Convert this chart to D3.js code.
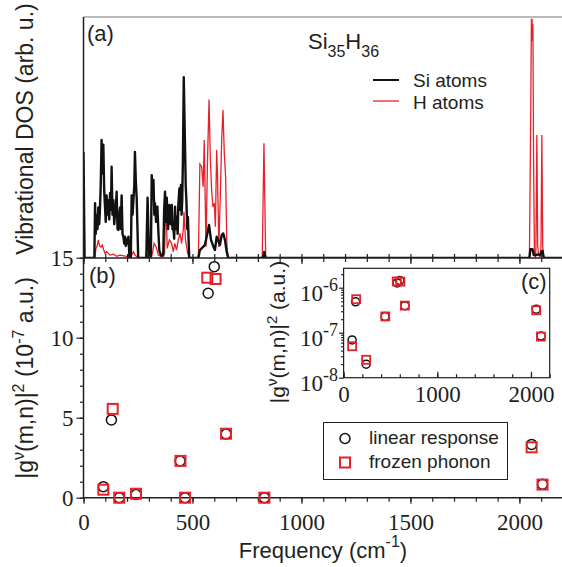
<!DOCTYPE html>
<html>
<head>
<meta charset="utf-8">
<script src="https://cdn.jsdelivr.net/npm/d3@7"></script>
<style>
  body { margin: 0; background: #fff; }
  svg { display: block; }
  .num { font-family: "Liberation Serif", Tinos, "Times New Roman", "DejaVu Serif", serif; }
</style>
</head>
<body>
<div id="chart"></div>
<script>
// vibrational DOS, [frequency (cm^-1), DOS in arb. u. (100 = top of panel a)]
const si_dos = [[0,44],[5,0],[50,0],[53,22.7],[56,10],[60,17.8],[64,12],[68,21],[72,14],[75,19],[79,30],[83,49],
  [87,35],[91,47],[95,28],[99,20.7],[102,15],[106,26],[110,18],[114,24],[118,16],[122,27],[126,20],[129,37.9],
  [133,18],[137,24],[141,14],[145,19],[149,22],[152,27.5],[156,12],[160,11.6],[164,18],[168,21],[171,12],[175,26],
  [179,10],[183,8.8],[187,6],[190,8.8],[194,5],[198,8],[202,6],[206,8.8],[211,0],[217,0],[221,26],[225,18],[229,24],
  [233,30],[236,44],[240,32],[244,25],[251,0],[288,0],[294,25],[301,0],[309,0],[313,34.4],[317,25],[321,32.4],
  [325,18],[328,22.7],[333,15],[339,21.3],[344,10],[348,3],[356,1],[366,1],[370,20],[374,27.5],[378,15],[382,25],
  [388,12],[394,22],[400,14],[405,22],[408,12],[412,13],[416,8],[420,21.3],[424,12],[428,17],[432,10],[435,22],
  [440,28.9],[444,20],[447,30.3],[450,18],[453,24],[456,40],[460,75],[463,60],[466,45],[469,30],[472,24],[476,12],
  [479,17],[485,0],[527,0],[534,3.3],[550,4.7],[557,5.4],[565,8.8],[576,13.7],[585,7.5],[596,4.7],[603,3.3],
  [611,8.8],[618,7.5],[626,5.4],[634,9.5],[641,10.2],[649,7.5],[657,2.6],[664,0],[823,0],[829,2.5],[835,0],
  [2046,0],[2050,3.6],[2060,3.6],[2066,1.2],[2074,1.2],[2086,1.5],[2094,1],[2100,2.5],[2106,3],[2112,0],[2200,0]];

const h_dos = [[0,0],[52,0],[57,4],[62,4.7],[68,7.5],[74,5],[80,4.5],[86,5.4],[93,3.3],[99,1.9],[106,2.6],[122,1.2],
  [137,1.6],[152,0.7],[167,1.2],[198,0.7],[221,1.2],[229,2.6],[236,1.2],[252,0],[288,0],[292,1.2],[297,0],[310,0],
  [316,1.9],[324,6.1],[333,4.7],[343,1.2],[359,0.5],[366,2.6],[372,2],[378,25],[384,4],[394,7.5],[404,6.1],[412,2.6],
  [419,6.1],[427,3.3],[435,7.5],[443,10.2],[450,6],[458,12],[461,19.2],[468,7.5],[478,1.9],[489,0],[527,0],[534,39],
  [542,37.9],[549,29.6],[554,49],[562,4.7],[569,40.7],[576,65.8],[582,40.7],[588,28],[594,21.3],[600,22.7],[605,13],
  [611,44.8],[615,33.7],[621,4.6],[628,26.8],[634,49],[640,61.4],[646,43.4],[652,33.7],[658,4.7],[664,0],[820,0],
  [828,47.6],[836,0],[2046,0],[2052,60],[2055,99],[2058,99],[2060,90],[2062,97],[2065,40],[2069,2],[2074,0],[2076,5],
  [2080,51],[2084,5],[2088,1],[2096,1],[2099,5],[2103,51],[2107,5],[2111,0],[2200,0]];

// |g^v(m,n)|^2 in units of 1e-7 a.u.
const lr_freq = [91, 128, 164, 241, 443, 466, 572, 600, 654, 830, 2056, 2106];
const lr_val  = [0.69, 4.86, 0, 0.2, 2.29, 0, 12.78, 14.44, 3.98, 0, 3.33, 0.84];
const fp_freq = [91, 134, 164, 241, 445, 466, 568, 606, 654, 830, 2056, 2106];
const fp_val  = [0.5, 5.55, 0, 0.25, 2.3, 0, 13.75, 13.67, 4.0, 0, 3.15, 0.82];

const x_major = [0, 500, 1000, 1500, 2000];
const x_minor = d3.range(0, 2201, 100);
const yb_major = [0, 5, 10, 15];
const yb_minor = d3.range(0, 16, 1);
const xi_major = [0, 1000, 2000];
const xi_minor = d3.range(0, 2201, 200);
const yi_major = [1e-8, 1e-7, 1e-6];
const yi_minor = [2e-8,3e-8,4e-8,5e-8,6e-8,7e-8,8e-8,9e-8,2e-7,3e-7,4e-7,5e-7,6e-7,7e-7,8e-7,9e-7,2e-6];

const RED = "#e8202a", INK = "#231f20";
const SANS = "Liberation Sans, Arial, sans-serif";

const svg = d3.select("#chart").append("svg")
  .attr("width", 562).attr("height", 567);

const top_a = 17, mid = 258, bot_b = 497.7;
const x = d3.scaleLinear().domain([0, 2200]).range([83.5, 563]);
const ya = d3.scaleLinear().domain([0, 100]).range([mid, top_a]);
const yb = d3.scaleLinear().domain([0, 15]).range([bot_b, 257.7]);
const xi = d3.scaleLinear().domain([0, 2200]).range([343.6, 549.7]);
const yi = d3.scaleLog().domain([1e-8, 2.7e-6]).range([377.7, 268.3]);

// tick labels are set in a Times-like serif
function style_axis(g, size) {
  g.attr("font-family", null).attr("font-size", null);
  g.selectAll("line").attr("stroke", INK).attr("stroke-width", 1.2);
  g.selectAll("text").attr("class", "num").attr("fill", INK).attr("font-size", size);
  g.select(".domain").remove();
}

// ---- panel (a): vibrational DOS
svg.append("clipPath").attr("id", "clip_a")
  .append("rect").attr("x", 83.5).attr("y", top_a).attr("width", 480).attr("height", mid - top_a);

const dos_line = d3.line().x(d => x(d[0])).y(d => ya(d[1]));
const ga = svg.append("g").attr("clip-path", "url(#clip_a)");
ga.append("path").attr("d", dos_line(h_dos))
  .attr("fill", "none").attr("stroke", RED).attr("stroke-width", 1.3);
ga.append("path").attr("d", dos_line(si_dos))
  .attr("fill", "none").attr("stroke", "#111").attr("stroke-width", 2.4).attr("stroke-linejoin", "round");

// frame of (a)
svg.append("line").attr("x1", 83.5).attr("x2", 563).attr("y1", top_a).attr("y2", top_a)
  .attr("stroke", "#777").attr("stroke-width", 1.2);

// ticks on shared line, pointing up into (a) and down into (b)
svg.append("g").attr("transform", `translate(0,${mid})`)
  .call(d3.axisTop(x).tickValues(x_minor).tickSize(4).tickFormat(""))
  .call(g => style_axis(g, 10));
svg.append("g").attr("transform", `translate(0,${mid})`)
  .call(d3.axisBottom(x).tickValues(x_minor).tickSize(4).tickFormat(""))
  .call(g => style_axis(g, 10));
svg.append("g").attr("transform", `translate(0,${mid})`)
  .call(d3.axisBottom(x).tickValues(x_major).tickSize(6).tickFormat(""))
  .call(g => style_axis(g, 10));

// ---- panel (b)
svg.append("g").attr("transform", `translate(0,${bot_b})`)
  .call(d3.axisBottom(x).tickValues(x_minor).tickSize(4).tickFormat(""))
  .call(g => style_axis(g, 10));
svg.append("g").attr("transform", `translate(0,${bot_b})`)
  .call(d3.axisBottom(x).tickValues(x_major).tickSize(6).tickPadding(10).tickFormat(d3.format("d")))
  .call(g => style_axis(g, 23));

svg.append("g").attr("transform", "translate(83.5,0)")
  .call(d3.axisLeft(yb).tickValues(yb_minor).tickSize(3.5).tickFormat(""))
  .call(g => style_axis(g, 10));
svg.append("g").attr("transform", "translate(83.5,0)")
  .call(d3.axisLeft(yb).tickValues(yb_major).tickSize(7).tickPadding(3).tickFormat(d3.format("d")))
  .call(g => style_axis(g, 23));

// axis lines
svg.append("line").attr("x1", 83.5).attr("x2", 83.5).attr("y1", top_a).attr("y2", bot_b)
  .attr("stroke", INK).attr("stroke-width", 1.5);
svg.append("line").attr("x1", 83.5).attr("x2", 563).attr("y1", mid).attr("y2", mid)
  .attr("stroke", INK).attr("stroke-width", 1.6);
svg.append("line").attr("x1", 83.5).attr("x2", 563).attr("y1", bot_b).attr("y2", bot_b)
  .attr("stroke", INK).attr("stroke-width", 1.5);

const lr = lr_freq.map((f, i) => ({f: f, v: lr_val[i]}));
const fp = fp_freq.map((f, i) => ({f: f, v: fp_val[i]}));

svg.append("g").selectAll("circle").data(lr).enter().append("circle")
  .attr("cx", d => x(d.f)).attr("cy", d => yb(d.v)).attr("r", 5)
  .attr("fill", "none").attr("stroke", "#111").attr("stroke-width", 1.5);
svg.append("g").selectAll("rect").data(fp).enter().append("rect")
  .attr("x", d => x(d.f) - 5).attr("y", d => yb(d.v) - 5).attr("width", 10).attr("height", 10)
  .attr("fill", "none").attr("stroke", RED).attr("stroke-width", 2);

// ---- inset (c)
const ix0 = xi.range()[0], ix1 = xi.range()[1], iy0 = yi.range()[1], iy1 = yi.range()[0];
svg.append("rect").attr("x", ix0).attr("y", iy0).attr("width", ix1 - ix0).attr("height", iy1 - iy0)
  .attr("fill", "#fff").attr("stroke", INK).attr("stroke-width", 1.2);

svg.append("g").attr("transform", `translate(0,${iy1})`)
  .call(d3.axisBottom(xi).tickValues(xi_minor).tickSize(-3.5).tickFormat(""))
  .call(g => style_axis(g, 10));
svg.append("g").attr("transform", `translate(0,${iy1})`)
  .call(d3.axisBottom(xi).tickValues(xi_major).tickSize(-6).tickPadding(8).tickFormat(d3.format("d")))
  .call(g => style_axis(g, 23));

svg.append("g").attr("transform", `translate(${ix0},0)`)
  .call(d3.axisLeft(yi).tickValues(yi_minor).tickSize(2.5).tickFormat(""))
  .call(g => style_axis(g, 10));
const yi_axis = svg.append("g").attr("transform", `translate(${ix0},0)`)
  .call(d3.axisLeft(yi).tickValues(yi_major).tickSize(4.5).tickPadding(1).tickFormat(""))
  .call(g => style_axis(g, 23));
yi_axis.selectAll(".tick text").each(function(d) {
  const t = d3.select(this).attr("dy", null).attr("y", 0);
  t.append("tspan").attr("dy", 13).text("10");
  t.append("tspan").attr("font-size", 18).attr("dy", -10).text(String(Math.round(Math.log10(d))));
});

const lr_in = lr.filter(d => d.v > 0), fp_in = fp.filter(d => d.v > 0);
svg.append("g").selectAll("circle").data(lr_in).enter().append("circle")
  .attr("cx", d => xi(d.f)).attr("cy", d => yi(d.v * 1e-7)).attr("r", 4)
  .attr("fill", "none").attr("stroke", "#111").attr("stroke-width", 1.5);
svg.append("g").selectAll("rect").data(fp_in).enter().append("rect")
  .attr("x", d => xi(d.f) - 4).attr("y", d => yi(d.v * 1e-7) - 4).attr("width", 8).attr("height", 8)
  .attr("fill", "none").attr("stroke", RED).attr("stroke-width", 1.8);

// ---- legends and labels
const leg_a = svg.append("g").attr("font-family", SANS).attr("font-size", 19).attr("fill", INK);
leg_a.append("line").attr("x1", 373).attr("x2", 399).attr("y1", 80).attr("y2", 80)
  .attr("stroke", "#111").attr("stroke-width", 2);
leg_a.append("line").attr("x1", 373).attr("x2", 399).attr("y1", 101).attr("y2", 101)
  .attr("stroke", RED).attr("stroke-width", 1.3);
leg_a.append("text").attr("x", 413).attr("y", 87).text("Si atoms");
leg_a.append("text").attr("x", 413).attr("y", 108.5).text("H atoms");

const formula = svg.append("text").attr("x", 308).attr("y", 49)
  .attr("font-family", SANS).attr("font-size", 22).attr("fill", INK);
formula.append("tspan").text("Si");
formula.append("tspan").attr("font-size", 16).attr("dy", 8).text("35");
formula.append("tspan").attr("dy", -8).text("H");
formula.append("tspan").attr("font-size", 16).attr("dy", 8).text("36");

const leg_b = svg.append("g").attr("font-family", SANS).attr("font-size", 19).attr("fill", INK);
leg_b.append("rect").attr("x", 323.5).attr("y", 422.5).attr("width", 184).attr("height", 57)
  .attr("fill", "#fff").attr("stroke", INK).attr("stroke-width", 1);
leg_b.append("circle").attr("cx", 345).attr("cy", 438.5).attr("r", 5)
  .attr("fill", "none").attr("stroke", "#111").attr("stroke-width", 1.5);
leg_b.append("rect").attr("x", 340).attr("y", 457.5).attr("width", 10).attr("height", 10)
  .attr("fill", "none").attr("stroke", RED).attr("stroke-width", 2);
leg_b.append("text").attr("x", 369).attr("y", 444).text("linear response");
leg_b.append("text").attr("x", 369).attr("y", 468).text("frozen phonon");

const panel_lab = svg.append("g").attr("font-family", SANS).attr("font-size", 22).attr("fill", INK);
panel_lab.append("text").attr("x", 87).attr("y", 41).text("(a)");
panel_lab.append("text").attr("x", 89).attr("y", 283).text("(b)");
panel_lab.append("text").attr("x", 521).attr("y", 289).text("(c)");

// axis titles
svg.append("text").attr("transform", "translate(33,129) rotate(-90)")
  .attr("text-anchor", "middle").attr("font-family", SANS).attr("font-size", 23).attr("fill", INK)
  .text("Vibrational DOS (arb. u.)");

const yb_title = svg.append("text").attr("transform", "translate(33,378) rotate(-90)")
  .attr("text-anchor", "middle").attr("font-family", SANS).attr("font-size", 23).attr("fill", INK);
yb_title.append("tspan").text("|g");
yb_title.append("tspan").attr("font-size", 16).attr("dy", -9).text("ν");
yb_title.append("tspan").attr("dy", 9).text("(m,n)|");
yb_title.append("tspan").attr("font-size", 16).attr("dy", -9).text("2");
yb_title.append("tspan").attr("dy", 9).text(" (10");
yb_title.append("tspan").attr("font-size", 16).attr("dy", -9).text("-7");
yb_title.append("tspan").attr("dy", 9).text(" a.u.)");

const yi_title = svg.append("text").attr("transform", "translate(285,332) rotate(-90)")
  .attr("text-anchor", "middle").attr("font-family", SANS).attr("font-size", 21).attr("fill", INK);
yi_title.append("tspan").text("|g");
yi_title.append("tspan").attr("font-size", 15).attr("dy", -8).text("ν");
yi_title.append("tspan").attr("dy", 8).text("(m,n)|");
yi_title.append("tspan").attr("font-size", 15).attr("dy", -8).text("2");
yi_title.append("tspan").attr("dy", 8).text(" (a.u.)");

const x_title = svg.append("text").attr("x", 323).attr("y", 558)
  .attr("text-anchor", "middle").attr("font-family", SANS).attr("font-size", 22).attr("fill", INK);
x_title.append("tspan").text("Frequency (cm");
x_title.append("tspan").attr("font-size", 16).attr("dy", -11).text("-1");
x_title.append("tspan").attr("dy", 11).text(")");
</script>
</body>
</html>
